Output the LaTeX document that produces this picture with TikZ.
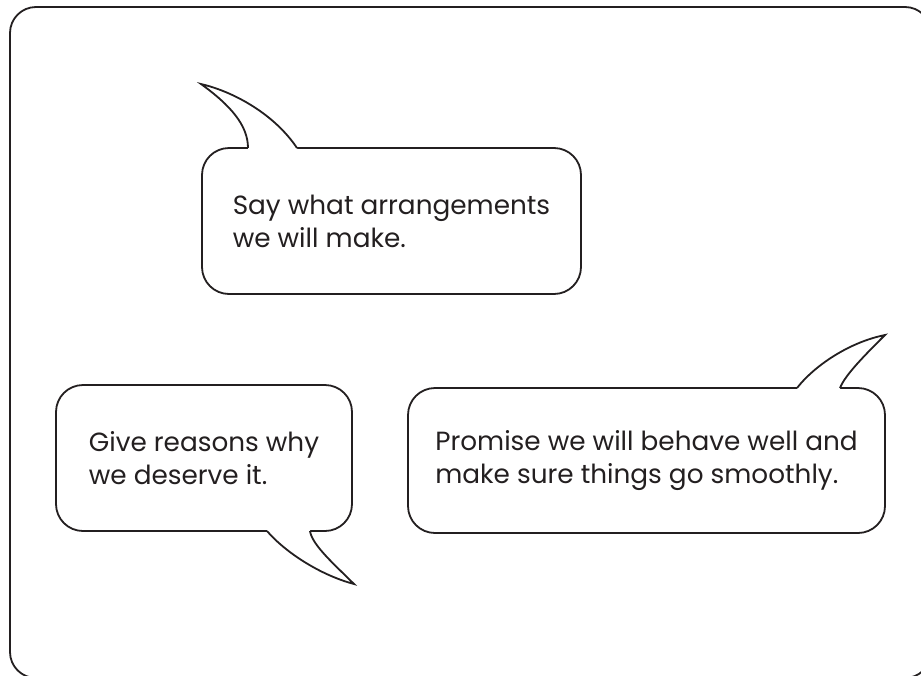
\documentclass[tikz,border=0pt]{standalone}
\usepackage{fontspec}
\setmainfont{Poppins}
\usetikzlibrary{positioning}
\definecolor{ink}{HTML}{231F20}
\tikzset {
frame/.style={draw=ink,line width=1.8pt,rounded corners=26pt},
bubble/.style={shape=rectangle,draw=ink,fill=white,line width=1.8pt,rounded corners=27pt,align=left,text=ink,font=\fontsize{26.3}{33}\selectfont,inner sep=0pt},
tail/.style={draw=ink,line width=1.8pt,line join=miter}
}

\begin{document}
\begin{tikzpicture}
[x=1pt,y=-1pt]
\useasboundingbox (0,0) rectangle (921,675);
\clip (0,0) rectangle (921,675);
\draw[frame] (10,7) rectangle (931,678);

\node[bubble,minimum width=379pt,minimum height=146pt] (arrange) at (391.5,221) {Say what arrangements\\we will make.};
\node[bubble,minimum width=296pt,minimum height=146pt] (reasons) at (204,458) {Give reasons why\\we deserve it.};
\node[bubble,minimum width=477pt,minimum height=145pt] (promise) at (646.5,460.5) {Promise we will behave well and\\make sure things go smoothly.};

% tail of the top bubble
\fill[white] (248,151) -- (248,148) .. controls (248,125) and (230,105) .. (201,84) .. controls (235,92) and (275,115) .. (297,148) -- (297,151) -- cycle;
\draw[tail] (248,148) .. controls (248,125) and (230,105) .. (201,84) .. controls (235,92) and (275,115) .. (297,148);
% tail of the left bubble
\fill[white] (267,528) -- (267,531) .. controls (285,552) and (320,575) .. (354,584) .. controls (335,565) and (312,545) .. (310,531) -- (310,528) -- cycle;
\draw[tail] (267,531) .. controls (285,552) and (320,575) .. (354,584) .. controls (335,565) and (312,545) .. (310,531);
% tail of the right bubble
\fill[white] (797,391) -- (797,388) .. controls (815,365) and (850,342) .. (885,335) .. controls (865,355) and (845,375) .. (840,388) -- (840,391) -- cycle;
\draw[tail] (797,388) .. controls (815,365) and (850,342) .. (885,335) .. controls (865,355) and (845,375) .. (840,388);
\end{tikzpicture}
\end{document}
